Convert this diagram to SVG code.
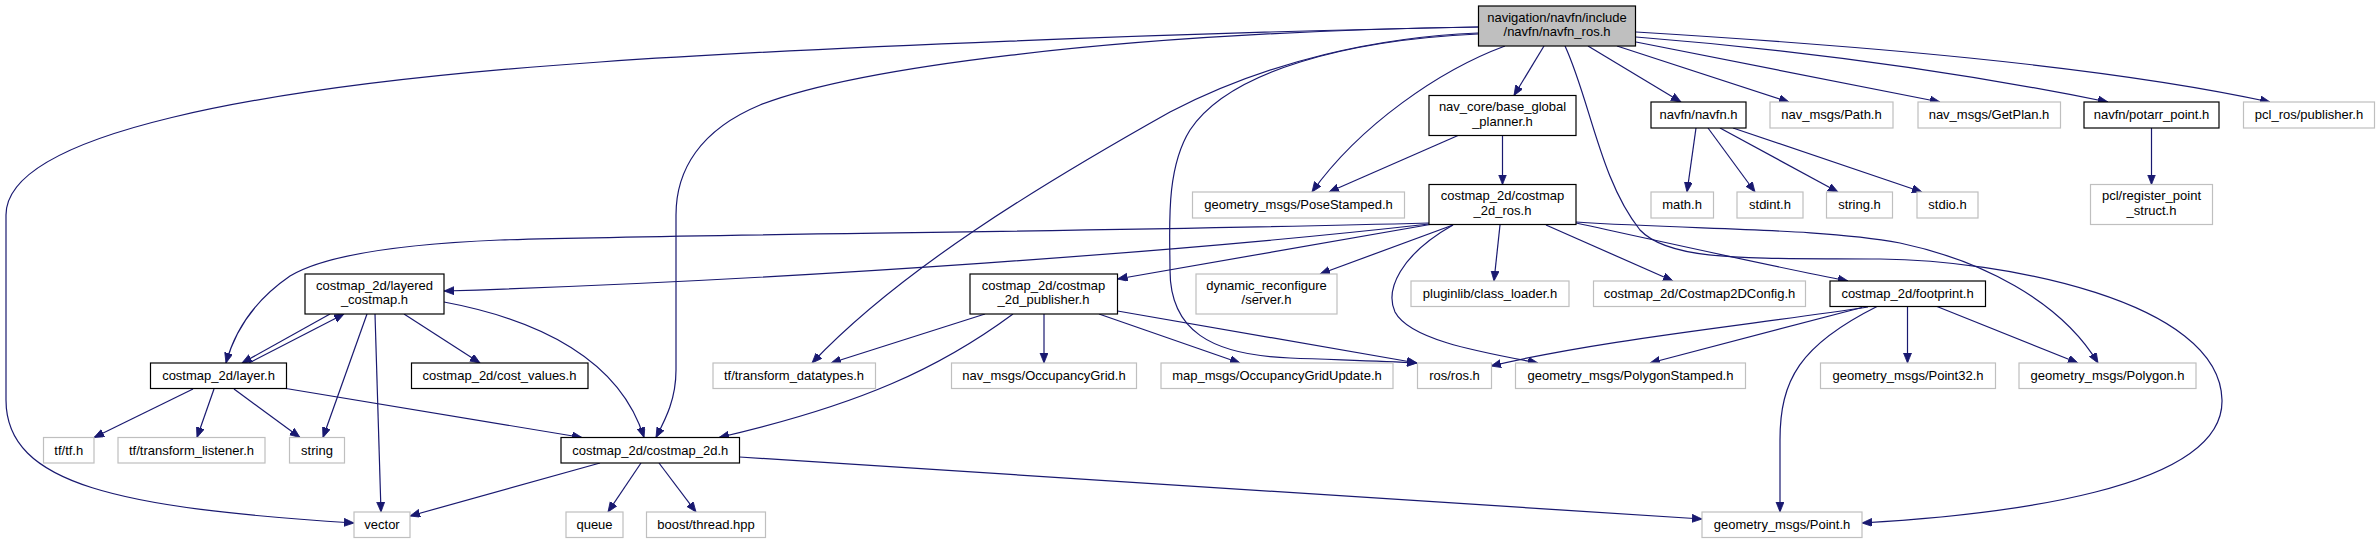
<svg xmlns="http://www.w3.org/2000/svg" width="2380" height="544" viewBox="0 0 2380 544">
<defs>
<marker id="ah" markerUnits="userSpaceOnUse" markerWidth="11" markerHeight="9" refX="10" refY="4" orient="auto">
<path d="M0,0 L10,4 L0,8 z" fill="#191970" stroke="#191970" stroke-width="0.8"/>
</marker>
<style>
.n rect{fill:#ffffff;stroke:#000000;stroke-width:1.2}
.g rect{fill:#ffffff;stroke:#bfbfbf;stroke-width:1.2}
.r rect{fill:#bfbfbf;stroke:#000000;stroke-width:1.2}
text{font-family:"Liberation Sans",Arial,sans-serif;font-size:13px;fill:#000000;text-anchor:middle}
#edges path{fill:none;stroke:#191970;stroke-width:1.2;marker-end:url(#ah)}
</style>
</defs>
<rect width="2380" height="544" fill="#ffffff"/>
<g id="edges">
<path d="M1478,27 C1200,32 800,48 600,62 C250,86 6,135 6,215 L6,400 C6,485 120,508 354,523"/>
<path d="M1478,27 C1100,33 850,70 760,105 C700,130 676,170 676,215 L676,370 C676,400 665,420 656,437.5"/>
<path d="M1478,33 C1380,37 1270,60 1170,112 C1040,185 900,270 812,363"/>
<path d="M1478,34 C1350,40 1230,70 1190,130 C1165,170 1170,230 1170,270 C1170,330 1210,355 1290,358 C1340,360 1380,361 1417,363"/>
<path d="M1505,46 C1440,70 1360,125 1312,192"/>
<path d="M1458,135.5 L1329,192"/>
<path d="M1544,46 L1514,95.5"/>
<path d="M1502.5,135.5 L1502.5,184.5"/>
<path d="M1588,46 L1681,102"/>
<path d="M1617,46 L1789,102"/>
<path d="M1636,42 L1940,102"/>
<path d="M1636,37 C1800,50 1950,70 2108,102"/>
<path d="M1636,32 C1850,45 2100,65 2270,102"/>
<path d="M1565,46 C1590,100 1600,180 1640,230 C1670,262 1750,258 1880,259 C2000,260 2220,300 2222,400 C2224,490 2000,515 1862,523"/>
<path d="M1696,128 L1687,192"/>
<path d="M1708,128 L1755,192"/>
<path d="M1720,128 L1838,192"/>
<path d="M1733,128 L1922,192"/>
<path d="M2151.5,128 L2151.5,184.5"/>
<path d="M1429,223 C1100,232 700,234 500,240 C380,245 320,258 290,276 C255,300 235,330 226,363"/>
<path d="M1429,224 C1200,250 800,280 444,291"/>
<path d="M1430,224.5 L1117.5,279"/>
<path d="M1453,225 L1320,274"/>
<path d="M1453,225 C1400,255 1385,290 1395,312 C1410,340 1480,352 1538,363"/>
<path d="M1500,225 L1494,281"/>
<path d="M1546,225 L1673,281"/>
<path d="M1576,223 C1700,250 1780,268 1848,281"/>
<path d="M1576,222 C1700,230 1820,228 1900,243 C1980,260 2060,300 2098,363"/>
<path d="M330,314 L242,363"/>
<path d="M249,363 L344,314"/>
<path d="M404,314 L480,363"/>
<path d="M367,314 L323,437.5"/>
<path d="M375,314 L381,512"/>
<path d="M444,302 C540,320 620,360 644,437.5"/>
<path d="M193,389 L94,437.5"/>
<path d="M214,389 L197,437.5"/>
<path d="M234,389 L300,437.5"/>
<path d="M286,388.5 L582,437.5"/>
<path d="M600,463 L410,516"/>
<path d="M641,463 L608,512"/>
<path d="M659,463 L696,512"/>
<path d="M739.5,457 L1702,519"/>
<path d="M985,314 L831,363"/>
<path d="M1013,314 C940,368 860,405 719,437.5"/>
<path d="M1044,314 L1044,363"/>
<path d="M1099,314 L1240,363"/>
<path d="M1117.5,311 L1417,363"/>
<path d="M1907.5,306.5 L1907.5,363"/>
<path d="M1937,306.5 L2078,363"/>
<path d="M1877,306.5 C1800,345 1780,380 1780,440 L1780,512"/>
<path d="M1868,307 C1750,325 1600,340 1491,366"/>
<path d="M1862,307.5 L1650,363"/>
</g>
<g id="n0" class="r"><rect x="1478.5" y="6" width="157" height="40"/><text x="1557" y="21.5">navigation/navfn/include</text><text x="1557" y="36">/navfn/navfn_ros.h</text></g>
<g id="n1" class="n"><rect x="1429" y="95.5" width="147" height="40"/><text x="1502.5" y="111">nav_core/base_global</text><text x="1502.5" y="125.5">_planner.h</text></g>
<g id="n2" class="n"><rect x="1651" y="102" width="95" height="26"/><text x="1698.5" y="119">navfn/navfn.h</text></g>
<g id="n3" class="g"><rect x="1770" y="102" width="123" height="26"/><text x="1831.5" y="119">nav_msgs/Path.h</text></g>
<g id="n4" class="g"><rect x="1918" y="102" width="142.5" height="26"/><text x="1989" y="119">nav_msgs/GetPlan.h</text></g>
<g id="n5" class="n"><rect x="2084" y="102" width="135" height="26"/><text x="2151.5" y="119">navfn/potarr_point.h</text></g>
<g id="n6" class="g"><rect x="2243.5" y="102" width="131" height="26"/><text x="2309" y="119">pcl_ros/publisher.h</text></g>
<g id="n7" class="g"><rect x="1192.5" y="192" width="212" height="26"/><text x="1298.5" y="209">geometry_msgs/PoseStamped.h</text></g>
<g id="n8" class="n"><rect x="1429" y="184.5" width="147" height="40"/><text x="1502.5" y="200">costmap_2d/costmap</text><text x="1502.5" y="214.5">_2d_ros.h</text></g>
<g id="n9" class="g"><rect x="1651" y="192" width="62.5" height="26"/><text x="1682" y="209">math.h</text></g>
<g id="n10" class="g"><rect x="1737" y="192" width="66" height="26"/><text x="1770" y="209">stdint.h</text></g>
<g id="n11" class="g"><rect x="1826.5" y="192" width="66" height="26"/><text x="1859.5" y="209">string.h</text></g>
<g id="n12" class="g"><rect x="1917" y="192" width="61" height="26"/><text x="1947.5" y="209">stdio.h</text></g>
<g id="n13" class="g"><rect x="2090.5" y="184.5" width="122" height="40"/><text x="2151.5" y="200">pcl/register_point</text><text x="2151.5" y="214.5">_struct.h</text></g>
<g id="n14" class="n"><rect x="305" y="274" width="139" height="40"/><text x="374.5" y="289.5">costmap_2d/layered</text><text x="374.5" y="304">_costmap.h</text></g>
<g id="n15" class="n"><rect x="970" y="274" width="147.5" height="40"/><text x="1043.5" y="289.5">costmap_2d/costmap</text><text x="1043.5" y="304">_2d_publisher.h</text></g>
<g id="n16" class="g"><rect x="1196" y="274" width="141" height="40"/><text x="1266.5" y="289.5">dynamic_reconfigure</text><text x="1266.5" y="304">/server.h</text></g>
<g id="n17" class="g"><rect x="1411" y="281" width="158" height="25.5"/><text x="1490" y="298">pluginlib/class_loader.h</text></g>
<g id="n18" class="g"><rect x="1593.5" y="281" width="212" height="25.5"/><text x="1699.5" y="298">costmap_2d/Costmap2DConfig.h</text></g>
<g id="n19" class="n"><rect x="1830" y="281" width="155.5" height="25.5"/><text x="1907.5" y="298">costmap_2d/footprint.h</text></g>
<g id="n20" class="n"><rect x="150.5" y="363" width="136" height="25.5"/><text x="218.5" y="380">costmap_2d/layer.h</text></g>
<g id="n21" class="n"><rect x="411.5" y="363" width="176.5" height="25.5"/><text x="499.5" y="380">costmap_2d/cost_values.h</text></g>
<g id="n22" class="g"><rect x="713" y="363" width="162.5" height="25.5"/><text x="794" y="380">tf/transform_datatypes.h</text></g>
<g id="n23" class="g"><rect x="951.5" y="363" width="185" height="25.5"/><text x="1044" y="380">nav_msgs/OccupancyGrid.h</text></g>
<g id="n24" class="g"><rect x="1161" y="363" width="232" height="25.5"/><text x="1277" y="380">map_msgs/OccupancyGridUpdate.h</text></g>
<g id="n25" class="g"><rect x="1417.5" y="363" width="74" height="25.5"/><text x="1454.5" y="380">ros/ros.h</text></g>
<g id="n26" class="g"><rect x="1515.5" y="363" width="230" height="25.5"/><text x="1630.5" y="380">geometry_msgs/PolygonStamped.h</text></g>
<g id="n27" class="g"><rect x="1820.5" y="363" width="175" height="25.5"/><text x="1908" y="380">geometry_msgs/Point32.h</text></g>
<g id="n28" class="g"><rect x="2019" y="363" width="177" height="25.5"/><text x="2107.5" y="380">geometry_msgs/Polygon.h</text></g>
<g id="n29" class="g"><rect x="43.5" y="437.5" width="50.5" height="25.5"/><text x="68.75" y="454.5">tf/tf.h</text></g>
<g id="n30" class="g"><rect x="118" y="437.5" width="147" height="25.5"/><text x="191.5" y="454.5">tf/transform_listener.h</text></g>
<g id="n31" class="g"><rect x="289.5" y="437.5" width="55" height="25.5"/><text x="317" y="454.5">string</text></g>
<g id="n32" class="n"><rect x="561" y="437.5" width="178.5" height="25.5"/><text x="650.25" y="454.5">costmap_2d/costmap_2d.h</text></g>
<g id="n33" class="g"><rect x="354" y="512" width="56" height="25.5"/><text x="382" y="529">vector</text></g>
<g id="n34" class="g"><rect x="566" y="512" width="57" height="25.5"/><text x="594.5" y="529">queue</text></g>
<g id="n35" class="g"><rect x="646.5" y="512" width="119" height="25.5"/><text x="706" y="529">boost/thread.hpp</text></g>
<g id="n36" class="g"><rect x="1702" y="512" width="160" height="25.5"/><text x="1782" y="529">geometry_msgs/Point.h</text></g>
</svg>
